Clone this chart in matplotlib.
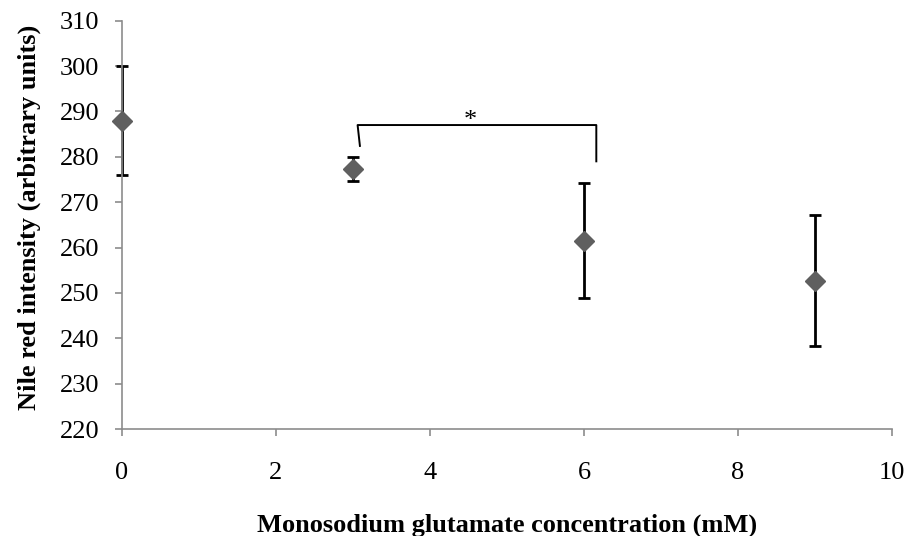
import matplotlib.pyplot as plt

# Nile red intensity vs. monosodium glutamate concentration
conc_mM = [0, 3, 6, 9]
intensity = [288.0, 277.3, 261.5, 252.7]
intensity_err = [12.0, 2.6, 12.7, 14.5]

# significance bracket between 3 mM and 6 mM
bracket_x = [3.06, 6.16]
bracket_y = 287.0
bracket_drop = [282.4, 279.0]
sig_label = '*'
sig_x = 4.53

plt.rcParams['font.family'] = ['Liberation Serif', 'DejaVu Serif']

fig = plt.figure(figsize=(9.13, 5.36), dpi=100)
ax = fig.add_axes([0.1336, 0.1996, 0.8434, 0.7618])

eb = ax.errorbar(conc_mM, intensity, yerr=intensity_err, fmt='none',
                 ecolor='black', elinewidth=2.0, capsize=4.4, capthick=2.0,
                 zorder=2)
for artist in eb.lines[1] + eb.lines[2]:
    artist.set_clip_on(False)
ax.plot(conc_mM, intensity, linestyle='none', marker='D', markersize=10,
        color='#5f5f5f', zorder=3, clip_on=False)

# bracket with its two legs
ax.plot([bracket_x[0] + 0.03, bracket_x[0], bracket_x[1], bracket_x[1]],
        [bracket_drop[0], bracket_y, bracket_y, bracket_drop[1]],
        color='black', linewidth=1.4)
ax.text(sig_x, bracket_y - 0.4, sig_label, ha='center', va='baseline',
        fontsize=19)

ax.set_xlim(0, 10)
ax.set_ylim(220, 310)
ax.set_xticks(range(0, 11, 2))
ax.set_yticks(range(220, 311, 10))

for side in ('top', 'right'):
    ax.spines[side].set_visible(False)
for side in ('left', 'bottom'):
    ax.spines[side].set_color('#8c8c8c')
    ax.spines[side].set_linewidth(1.2)
ax.tick_params(axis='both', colors='#8c8c8c', length=5, width=1.2,
               labelcolor='black', labelsize=19)
ax.tick_params(axis='x', pad=19)
ax.tick_params(axis='y', pad=11.5)

ax.set_xlabel('Monosodium glutamate concentration (mM)', fontsize=19,
              fontweight='bold', va='baseline')
ax.xaxis.set_label_coords(0.5, -0.252)
ax.set_ylabel('Nile red intensity (arbitrary units)', fontsize=19,
              fontweight='bold', va='baseline')
ax.yaxis.set_label_coords(-0.112, 0.518)

fig.savefig('out.png', dpi=100)
